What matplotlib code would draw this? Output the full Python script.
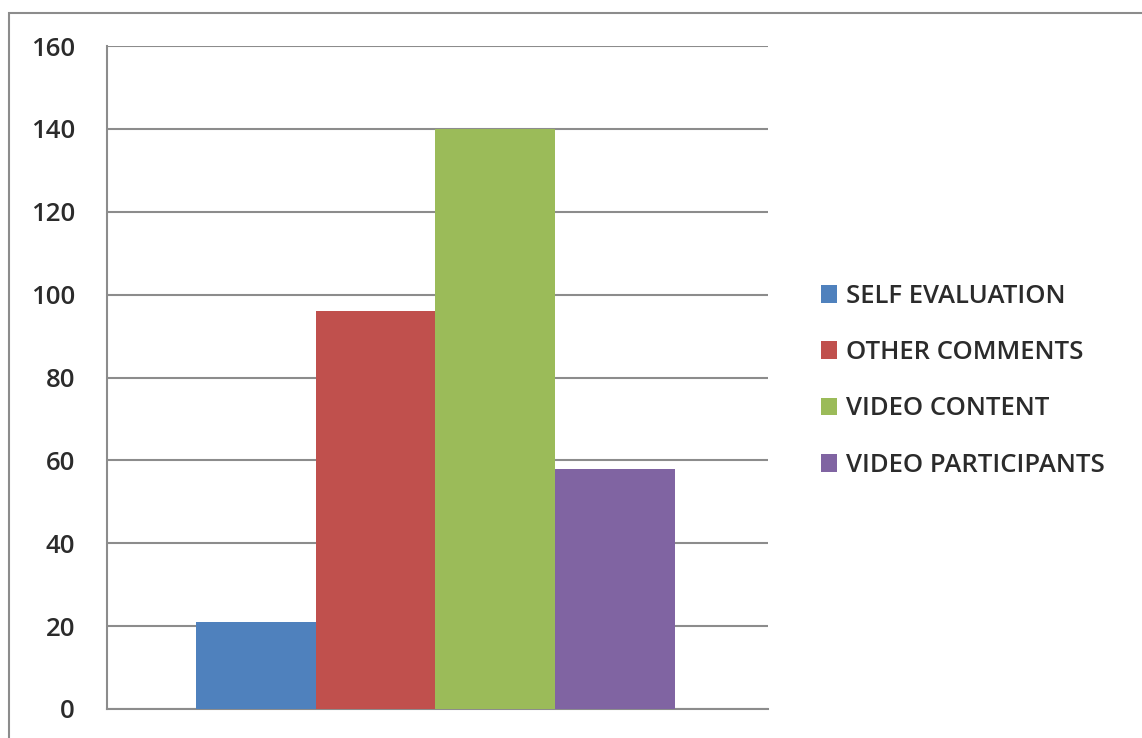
import matplotlib.pyplot as plt
from matplotlib.patches import Rectangle
import matplotlib
matplotlib.rcParams['font.family'] = ['Open Sans', 'DejaVu Sans']

# data
series = ['SELF EVALUATION', 'OTHER COMMENTS', 'VIDEO CONTENT', 'VIDEO PARTICIPANTS']
values = [21, 96, 140, 58]
colors = ['#4F81BD', '#C0504D', '#9BBB59', '#8064A2']
yticks = [0, 20, 40, 60, 80, 100, 120, 140, 160]

fig = plt.figure(figsize=(11.42, 7.38), dpi=100)
W, H = 1142, 738

# outer chart frame (only left and top visible)
fig.patches.append(Rectangle((9 / W, -0.1), 1.2, (738 - 13) / H + 0.1,
                             transform=fig.transFigure, fill=False,
                             edgecolor='#8c8c8c', linewidth=1.5))

ax = fig.add_axes([107 / W, (H - 709) / H, (768 - 107) / W, (709 - 46) / H])

for i, (name, v, c) in enumerate(zip(series, values, colors)):
    ax.bar(i, v, width=1.0, align='edge', color=c, label=name, zorder=3)

ax.set_xlim(-0.743, 4.777)
ax.set_ylim(0, 160)
ax.set_yticks(yticks)
ax.set_xticks([])
ax.yaxis.grid(True, color='#8c8c8c', linewidth=1.5, zorder=0)
ax.tick_params(axis='y', length=0, pad=23, labelsize=18.5, labelcolor='#2b2b2b')
for lbl in ax.get_yticklabels():
    lbl.set_fontweight('semibold')
for s in ['top', 'right']:
    ax.spines[s].set_visible(False)
for s in ['left', 'bottom']:
    ax.spines[s].set_color('#8c8c8c')
    ax.spines[s].set_linewidth(1.5)

leg = ax.legend(loc='center left', bbox_to_anchor=(1.065, 0.495), frameon=False,
                fontsize=18.5, handlelength=0.6, handleheight=0.7,
                handletextpad=0.35, labelspacing=1.22, borderaxespad=0)
for t in leg.get_texts():
    t.set_color('#2b2b2b')
    t.set_fontweight('semibold')

fig.savefig('out.png', dpi=100)
